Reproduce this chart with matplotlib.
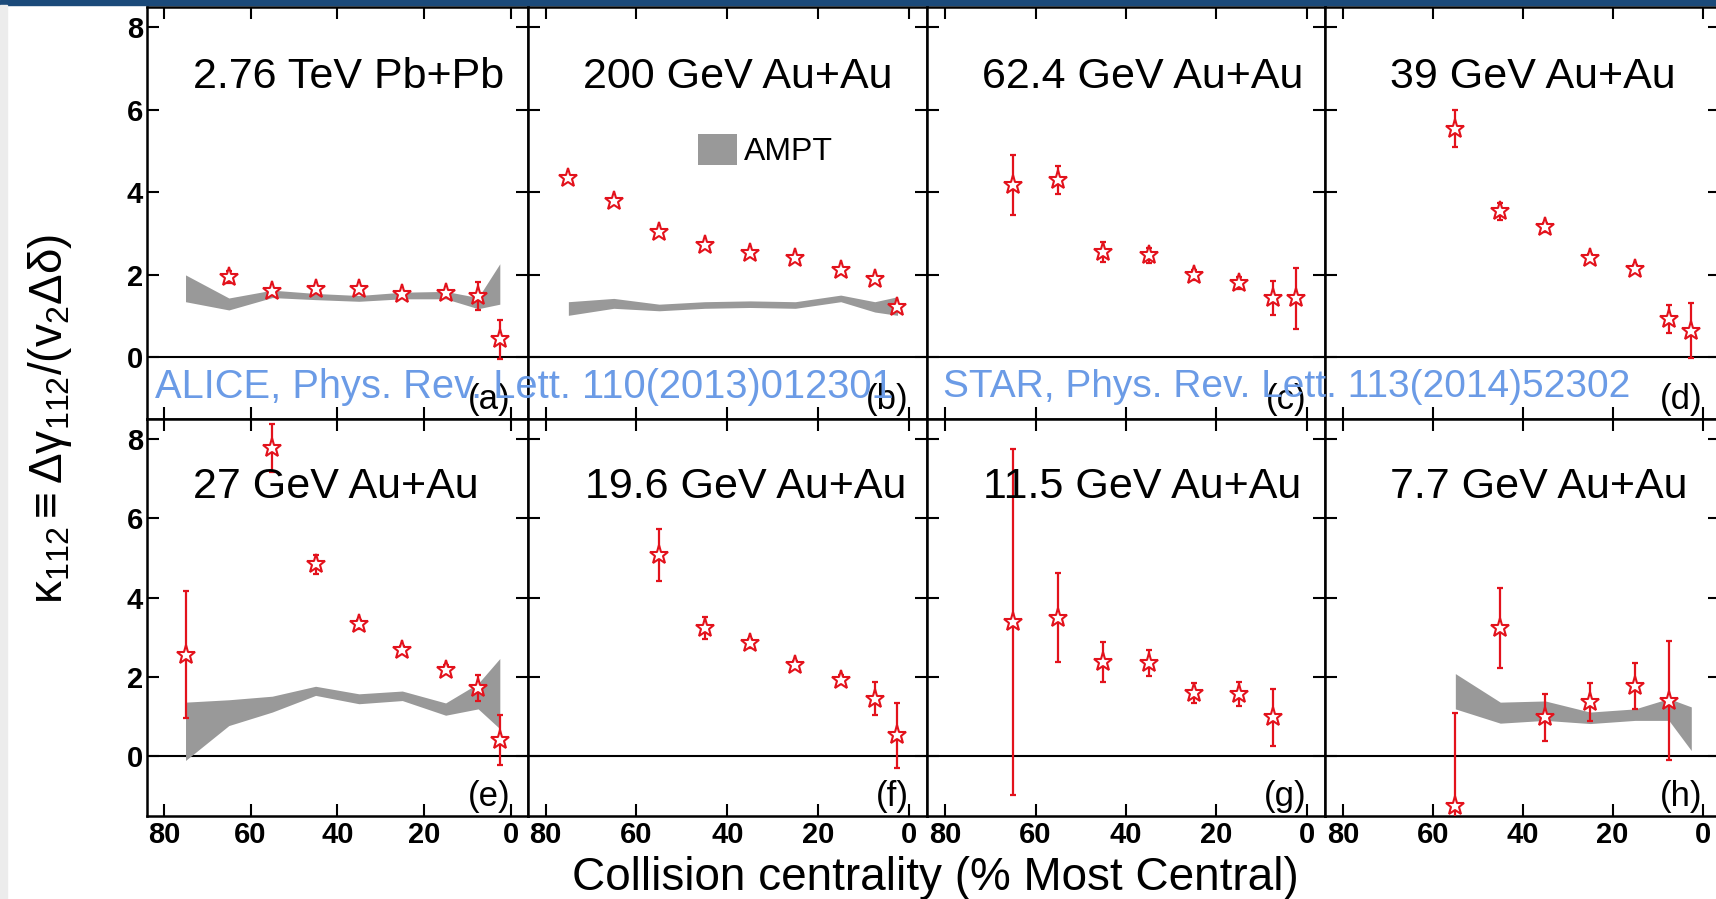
import matplotlib
matplotlib.use('Agg')
import matplotlib.pyplot as plt
from matplotlib.patches import Patch, Rectangle

plt.rcParams['font.family'] = ['Liberation Sans', 'DejaVu Sans']
plt.rcParams['mathtext.fontset'] = 'custom'
plt.rcParams['mathtext.rm'] = 'Liberation Sans'
plt.rcParams['mathtext.it'] = 'Liberation Sans:italic'
plt.rcParams['mathtext.bf'] = 'Liberation Sans:bold'

# kappa_112 vs centrality (% most central)
x_a = [65, 55, 45, 35, 25, 15, 7.5, 2.5]
k_a = [1.95, 1.60, 1.66, 1.66, 1.53, 1.55, 1.49, 0.44]
e_a = [0.15, 0.08, 0.07, 0.07, 0.07, 0.07, 0.33, 0.47]

x_b = [75, 65, 55, 45, 35, 25, 15, 7.5, 2.5]
k_b = [4.35, 3.79, 3.04, 2.72, 2.52, 2.40, 2.11, 1.89, 1.21]
e_b = [0.05, 0.05, 0.05, 0.05, 0.05, 0.05, 0.05, 0.05, 0.05]

x_c = [65, 55, 45, 35, 25, 15, 7.5, 2.5]
k_c = [4.17, 4.29, 2.56, 2.48, 1.99, 1.81, 1.44, 1.43]
e_c = [0.73, 0.34, 0.24, 0.18, 0.12, 0.15, 0.41, 0.74]

x_d = [55, 45, 35, 25, 15, 7.5, 2.5]
k_d = [5.54, 3.54, 3.15, 2.42, 2.15, 0.93, 0.65]
e_d = [0.45, 0.20, 0.10, 0.08, 0.10, 0.34, 0.67]

x_e = [75, 55, 45, 35, 25, 15, 7.5, 2.5]
k_e = [2.57, 7.77, 4.84, 3.33, 2.69, 2.19, 1.73, 0.42]
e_e = [1.60, 0.60, 0.23, 0.12, 0.10, 0.12, 0.33, 0.63]

x_f = [55, 45, 35, 25, 15, 7.5, 2.5]
k_f = [5.08, 3.24, 2.85, 2.30, 1.94, 1.46, 0.53]
e_f = [0.65, 0.28, 0.12, 0.10, 0.12, 0.41, 0.83]

x_g = [65, 55, 45, 35, 25, 15, 7.5]
k_g = [3.39, 3.50, 2.38, 2.36, 1.60, 1.57, 0.99]
e_g = [4.37, 1.13, 0.50, 0.32, 0.25, 0.30, 0.72]

x_h = [55, 45, 35, 25, 15, 7.5]
k_h = [-1.24, 3.24, 0.99, 1.37, 1.77, 1.41]
e_h = [2.33, 1.00, 0.59, 0.48, 0.58, 1.51]

# AMPT bands (lower / upper edge)
ampt_x_a = [75, 65, 55, 45, 35, 25, 15, 7.5, 2.5]
ampt_lo_a = [1.35, 1.15, 1.45, 1.40, 1.36, 1.42, 1.42, 1.18, 1.29]
ampt_hi_a = [2.00, 1.44, 1.63, 1.55, 1.50, 1.58, 1.60, 1.45, 2.27]

ampt_x_b = [75, 65, 55, 45, 35, 25, 15, 7.5, 2.5]
ampt_lo_b = [1.02, 1.19, 1.13, 1.19, 1.21, 1.19, 1.35, 1.10, 1.02]
ampt_hi_b = [1.35, 1.43, 1.29, 1.35, 1.37, 1.35, 1.51, 1.35, 1.47]

ampt_x_e = [75, 65, 55, 45, 35, 25, 15, 7.5, 2.5]
ampt_lo_e = [-0.10, 0.78, 1.12, 1.54, 1.33, 1.41, 1.04, 1.20, 0.70]
ampt_hi_e = [1.37, 1.43, 1.52, 1.77, 1.58, 1.65, 1.35, 1.84, 2.47]

ampt_x_h = [55, 45, 35, 25, 15, 7.5, 2.5]
ampt_lo_h = [1.20, 0.84, 0.91, 0.83, 0.91, 0.91, 0.15]
ampt_hi_h = [2.09, 1.37, 1.40, 1.12, 1.20, 1.46, 1.25]

titles = ['2.76 TeV Pb+Pb', '200 GeV Au+Au', '62.4 GeV Au+Au', '39 GeV Au+Au',
          '27 GeV Au+Au', '19.6 GeV Au+Au', '11.5 GeV Au+Au', '7.7 GeV Au+Au']
letters = ['(a)', '(b)', '(c)', '(d)', '(e)', '(f)', '(g)', '(h)']
xticks = [80, 60, 40, 20, 0]
yticks = [0, 2, 4, 6, 8]

panels = [(x_a, k_a, e_a), (x_b, k_b, e_b), (x_c, k_c, e_c), (x_d, k_d, e_d),
          (x_e, k_e, e_e), (x_f, k_f, e_f), (x_g, k_g, e_g), (x_h, k_h, e_h)]
bands = {0: (ampt_x_a, ampt_lo_a, ampt_hi_a), 1: (ampt_x_b, ampt_lo_b, ampt_hi_b),
         4: (ampt_x_e, ampt_lo_e, ampt_hi_e), 7: (ampt_x_h, ampt_lo_h, ampt_hi_h)}

RED = '#e3121c'
GRAY = '#999999'
BLUE = '#6b9be6'

W, H = 1716, 899
fig = plt.figure(figsize=(W / 100, H / 100), dpi=100)

# slide decoration: dark bar on top, grey strip on the left
fig.patches.append(Rectangle((0, 1 - 5 / H), 1, 5 / H, transform=fig.transFigure,
                             color='#1b4a7a', zorder=0))
fig.patches.append(Rectangle((0, 0), 7 / W, 1 - 5 / H, transform=fig.transFigure,
                             color='#ececec', zorder=0))

# panel geometry in pixels: column lefts/widths, row tops/bottoms
col_left = [146.5, 527.5, 927, 1325]
col_width = [381.5, 399.5, 398, 395.5]
row_top = [6.7, 419.3]
row_bot = [419.3, 816]
title_x = [73.3, 71.8, 71.8, 69.6, 73.3, 71.4, 71.6, 69.6]

for i, (xs, ks, es) in enumerate(panels):
    r, c = divmod(i, 4)
    ax = fig.add_axes([col_left[c] / W, 1 - row_bot[r] / H,
                       col_width[c] / W, (row_bot[r] - row_top[r]) / H])
    ax.set_xlim(84, -4)
    ax.set_ylim(-1.5, 8.5)
    ax.axhline(0, color='black', lw=1.5, zorder=1)

    if i in bands:
        bx, blo, bhi = bands[i]
        ax.fill_between(bx, blo, bhi, color=GRAY, lw=0, zorder=2)

    ax.errorbar(xs, ks, yerr=es, fmt='none', ecolor=RED, elinewidth=1.6,
                capsize=2.5, capthick=1.6, zorder=3)
    ax.plot(xs, ks, ls='none', marker='*', ms=14, mfc='white', mec=RED,
            mew=1.5, zorder=4)

    ax.text(title_x[i], 6.52, titles[i], fontsize=31, ha='left', va='baseline')
    ax.text(0, -1.43, letters[i], fontsize=25, ha='right', va='bottom')

    ax.set_xticks(xticks)
    ax.set_yticks(yticks)
    ax.tick_params(direction='in', length=8.5, width=1.5, top=True, right=True,
                   labelsize=21)
    ax.tick_params(axis='x', pad=3.5)
    ax.tick_params(axis='y', pad=2.5)
    if r == 1:
        ax.set_xticklabels([str(t) for t in xticks], fontweight='bold', fontsize=21)
    else:
        ax.tick_params(labelbottom=False)
    if c == 0:
        ax.set_yticklabels([str(t) for t in yticks], fontweight='bold', fontsize=21)
    else:
        ax.tick_params(labelleft=False)
    for s in ax.spines.values():
        s.set_linewidth(1.8)

    if i == 1:
        ax.legend(handles=[Patch(facecolor=GRAY, edgecolor='none')], labels=['AMPT'],
                  loc='center left', bbox_to_anchor=(0.4275, 0.6515), frameon=False,
                  fontsize=23, handlelength=1.2, handleheight=1.1,
                  handletextpad=0.22, borderpad=0, borderaxespad=0)

fig.text(50 / W, 0.534, r'$\mathrm{\kappa_{112}\equiv\Delta\gamma_{112}/(v_{2}\Delta\delta)}$',
         rotation=90, fontsize=33, ha='center', va='center')
fig.text(935 / W, 1 - 890 / H, 'Collision centrality (% Most Central)',
         fontsize=33, ha='center', va='baseline')

# reference citations written across the panels
fig.text(155 / W, 1 - 398 / H, 'ALICE, Phys. Rev. Lett. 110(2013)012301',
         fontsize=28.7, color=BLUE, ha='left', va='baseline', zorder=10)
fig.text(1630 / W, 1 - 397 / H, 'STAR, Phys. Rev. Lett. 113(2014)52302',
         fontsize=28, color=BLUE, ha='right', va='baseline', zorder=10)

fig.savefig('out.png', dpi=100)
